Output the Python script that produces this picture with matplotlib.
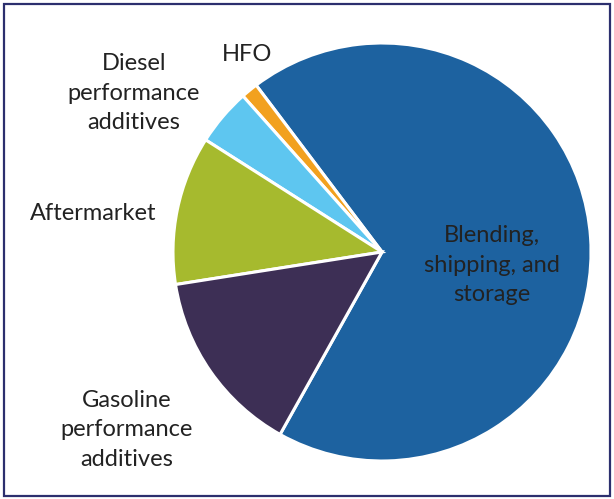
#!/usr/bin/env python3
"""Pie chart: additive market shares by segment."""
import matplotlib
matplotlib.use("Agg")
import matplotlib.pyplot as plt
from matplotlib.patches import Rectangle

# data (share of total, %), drawn counter-clockwise starting at the blue slice
segments = ["Blending, shipping, and storage", "HFO", "Diesel performance additives",
            "Aftermarket", "Gasoline performance additives"]
shares = [68.4, 1.3, 4.4, 11.5, 14.4]
colors = ["#1d62a0", "#f2a11f", "#5ec6f0", "#a6ba2e", "#3d2f55"]
explode = [0.035, 0, 0, 0, 0]

W, H = 614, 499
fig = plt.figure(figsize=(W / 100, H / 100), dpi=100)
ax = fig.add_axes([0, 0, 1, 1])

ax.pie(shares, colors=colors, explode=explode, startangle=240.8, counterclock=True,
       center=(382, H - 252), radius=209,
       wedgeprops=dict(edgecolor="white", linewidth=2.2))
ax.set_xlim(0, W)
ax.set_ylim(0, H)
ax.set_aspect("equal")
ax.axis("off")

font = dict(family="Lato", fontsize=17, color="#222222", ha="center", va="center",
            linespacing=1.5)
ax.text(247, H - 54, "HFO", **font)
ax.text(134, H - 93, "Diesel\nperformance\nadditives", **font)
ax.text(93, H - 213, "Aftermarket", **font)
ax.text(127, H - 430, "Gasoline\nperformance\nadditives", **font)
ax.text(492, H - 265, "Blending,\nshipping, and\nstorage", **font)

# frame around the whole figure
fig.patches.append(Rectangle((4 / W, 3 / H), (W - 8) / W, (H - 7) / H,
                             transform=fig.transFigure, fill=False,
                             edgecolor="#2c2f6e", linewidth=1.6))

fig.savefig("out.png", dpi=100)
